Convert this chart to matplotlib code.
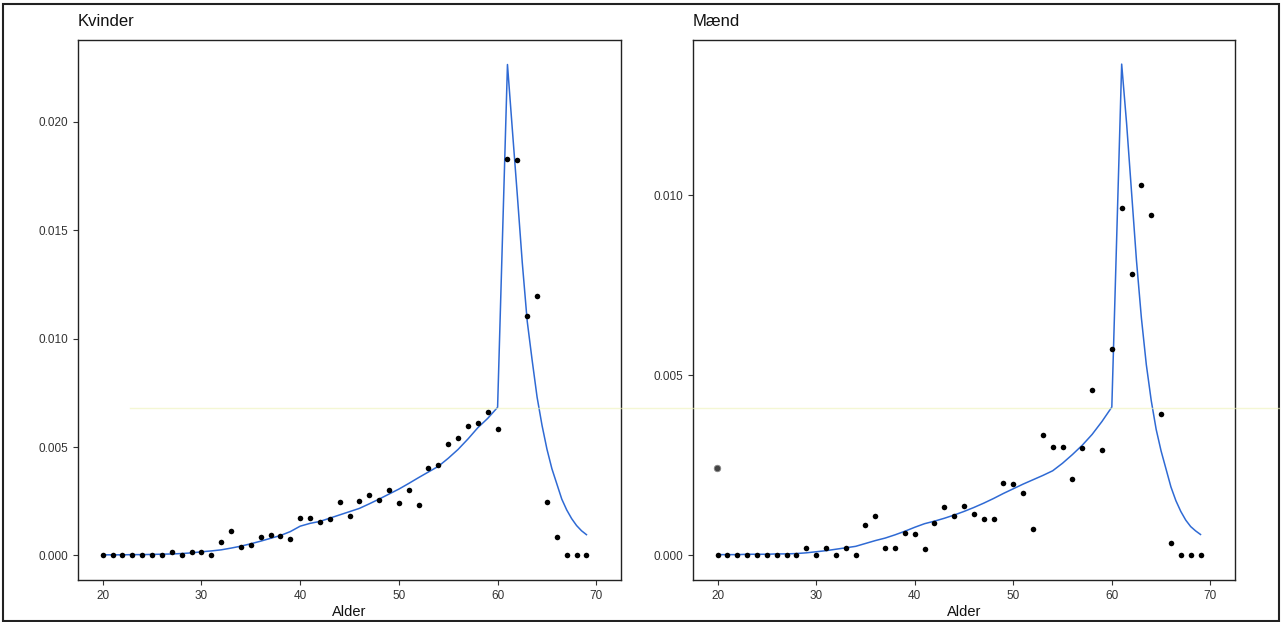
import matplotlib
matplotlib.use("Agg")
import matplotlib.pyplot as plt
from matplotlib.lines import Line2D
from matplotlib.patches import Rectangle

plt.rcParams['font.family'] = ['Liberation Sans', 'DejaVu Sans']

# observed rates by age (points)
ages = list(range(20, 70))

kvinder_obs = [0, 0, 0, 0, 0, 0, 0, 0.00018, 0, 0.00014,
               0.00014, 0, 0.00061, 0.00115, 0.00038, 0.00049, 0.00087, 0.00096, 0.00092, 0.00076,
               0.00171, 0.00171, 0.00153, 0.00168, 0.00248, 0.00182, 0.00252, 0.00277, 0.00258, 0.00301,
               0.00243, 0.00304, 0.00234, 0.00401, 0.00419, 0.00514, 0.00543, 0.00599, 0.00610, 0.00661,
               0.00581, 0.01829, 0.01824, 0.01104, 0.01196, 0.00248, 0.00083, 0, 0, 0]

maend_obs = [0, 0, 0, 0, 0, 0, 0, 0, 0, 0.00020,
             0, 0.00020, 0, 0.00020, 0, 0.00083, 0.00109, 0.00020, 0.00020, 0.00061,
             0.00058, 0.00018, 0.00090, 0.00134, 0.00110, 0.00136, 0.00115, 0.00101, 0.00101, 0.00202,
             0.00199, 0.00173, 0.00073, 0.00335, 0.00301, 0.00301, 0.00212, 0.00298, 0.00459, 0.00292,
             0.00574, 0.00966, 0.00782, 0.01028, 0.00945, 0.00394, 0.00033, 0, 0, 0]

# stray duplicated point at age 20 in the men's panel
maend_extra_age = [19.9]
maend_extra_obs = [0.00242]

# fitted curves
fit_age = list(range(20, 61)) + [61, 61.5, 62, 62.5, 63, 63.5, 64, 64.5, 65,
                                 65.5, 66, 66.5, 67, 67.5, 68, 68.5, 69]

kvinder_fit = [0.00003, 0.00003, 0.00003, 0.00004, 0.00004, 0.00005, 0.00006, 0.00007, 0.00009, 0.00012,
               0.00017, 0.00021, 0.00026, 0.00034, 0.00043, 0.00054, 0.00066, 0.00079, 0.00092, 0.00110,
               0.00135, 0.00148, 0.00157, 0.00172, 0.00187, 0.00202, 0.00217, 0.00238, 0.00260, 0.00283,
               0.00306, 0.00332, 0.00359, 0.00385, 0.00411, 0.00448, 0.00489, 0.00537, 0.00589, 0.00632,
               0.00683,
               0.02263, 0.0196, 0.0166, 0.0135, 0.0108, 0.0090, 0.0073, 0.0060, 0.0049,
               0.0040, 0.0033, 0.0026, 0.0021, 0.0017, 0.00138, 0.00114, 0.00096]

maend_fit = [0.00002, 0.00002, 0.00002, 0.00003, 0.00003, 0.00003, 0.00004, 0.00004, 0.00005, 0.00007,
             0.00010, 0.00013, 0.00017, 0.00021, 0.00025, 0.00033, 0.00041, 0.00048, 0.00057, 0.00067,
             0.00078, 0.00088, 0.00095, 0.00103, 0.00112, 0.00122, 0.00133, 0.00145, 0.00158, 0.00172,
             0.00185, 0.00198, 0.00210, 0.00222, 0.00235, 0.00256, 0.00280, 0.00306, 0.00336, 0.00372,
             0.00412,
             0.01365, 0.0120, 0.0101, 0.0082, 0.0066, 0.0053, 0.0043, 0.0035, 0.0029,
             0.0024, 0.0019, 0.00152, 0.00122, 0.00098, 0.0008, 0.00068, 0.00058]

kvinder_yticks = [0.000, 0.005, 0.010, 0.015, 0.020]
maend_yticks = [0.000, 0.005, 0.010]
xticks = [20, 30, 40, 50, 60, 70]

W, H = 1282, 622
fig = plt.figure(figsize=(W / 100, H / 100), dpi=100)
fig.patch.set_facecolor("white")

line_col = "#2f6ad4"


def panel(rect, title, obs, fit, yticks, ylim, extra=None):
    ax = fig.add_axes(rect)
    ax.plot(fit_age, fit, color=line_col, lw=1.1, zorder=2)
    ax.scatter(ages, obs, s=16, color="black", zorder=3, linewidths=0)
    if extra is not None:
        ax.scatter(extra[0], extra[1], s=22, color="#444444", edgecolors="#888888",
                   linewidths=0.6, zorder=3)
    ax.set_xlim(17.5, 72.5)
    ax.set_ylim(*ylim)
    ax.set_xticks(xticks)
    ax.set_yticks(yticks)
    ax.set_yticklabels([f"{v:.3f}" for v in yticks])
    ax.tick_params(labelsize=8.5, colors="#333333", length=3.5, width=0.8)
    for s in ax.spines.values():
        s.set_color("#222222")
        s.set_linewidth(1.0)
    ax.set_xlabel("Alder", fontsize=10.5, labelpad=2, color="#111111")
    ax.text(0.0, 1.02, title, transform=ax.transAxes, fontsize=12,
            ha="left", va="bottom", color="#111111")
    return ax


bottom = 42 / H
height = 540 / H
panel([78 / W, bottom, 543 / W, height], "Kvinder", kvinder_obs, kvinder_fit,
      kvinder_yticks, (-0.00113, 0.02376))
panel([693 / W, bottom, 542 / W, height], "Mænd", maend_obs, maend_fit,
      maend_yticks, (-0.000685, 0.01432), extra=(maend_extra_age, maend_extra_obs))

# scan frame and faint scanner streak
fig.add_artist(Rectangle((3 / W, 1 / H), 1276 / W, 617 / H, transform=fig.transFigure,
                         fill=False, edgecolor="#222222", lw=1.5))
fig.add_artist(Line2D([130 / W, 1 - 3 / W], [1 - 408 / H, 1 - 408 / H],
                      transform=fig.transFigure, color="#eef3b8", alpha=0.6,
                      lw=1.0, zorder=10))

fig.savefig("out.png", dpi=100)
